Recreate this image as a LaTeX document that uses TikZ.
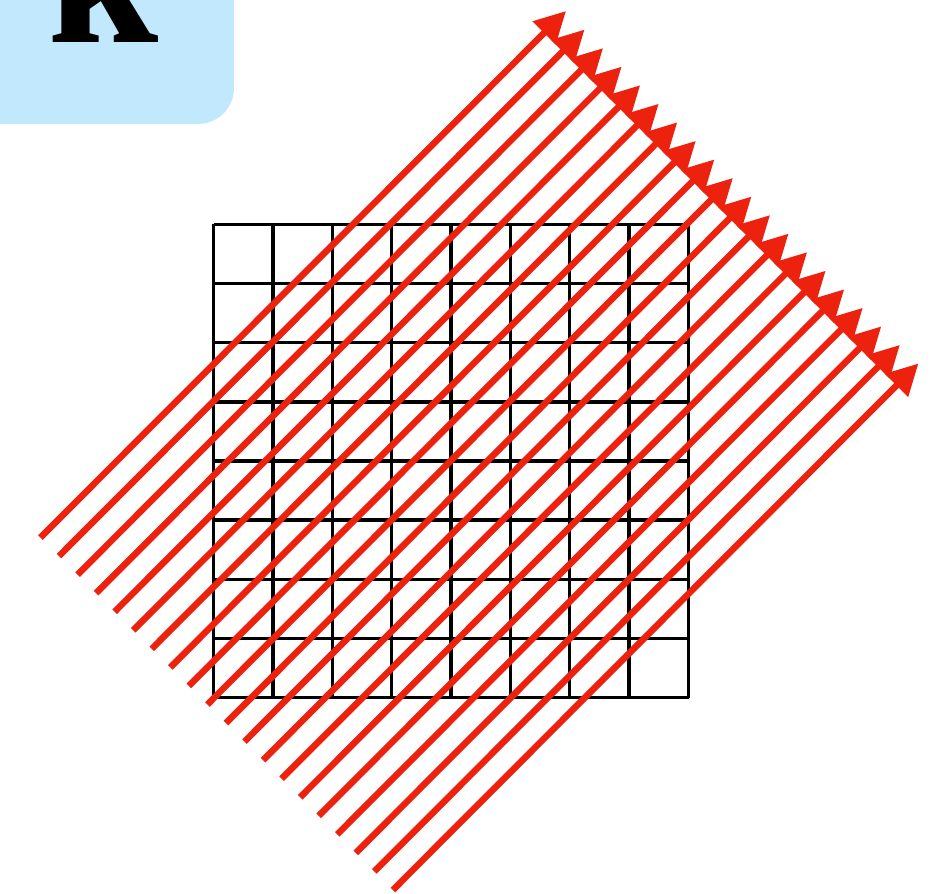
\documentclass[tikz,border=0pt]{standalone}
\usepackage{fontspec}
\newfontfamily\labelfont{Liberation Serif}
\usetikzlibrary{arrows.meta}
\definecolor{panelblue}{RGB}{193,232,253}
\definecolor{rayred}{RGB}{236,34,14}
\begin{document}
\begin{tikzpicture}[x=1pt,y=-1pt,
  gridline/.style={black,line width=3.3pt},
  ray/.style={rayred,line width=6.5pt,-{Triangle[length=31pt,width=31pt]}},
  panel/.style={fill=panelblue,draw=none,rounded corners=36pt}]
\useasboundingbox (0,0) rectangle (949,893);
\fill[panel] (-60,-60) rectangle (234,124);
\node[anchor=base west,inner sep=0pt,font=\labelfont\bfseries\fontsize{200}{204}\selectfont] (lbl) at (47,43) {k};
% grid
\foreach \i in {0,...,8} {
  \draw[gridline] ({213.5+\i*59.375},224.5) -- ({213.5+\i*59.375},697.5);
  \draw[gridline] (213.5,{224.5+\i*59.125}) -- (688.5,{224.5+\i*59.125});
}
% rays
\foreach \i in {0,...,19} {
  \coordinate (s\i) at ({40.5+\i*18.55},{537.5+\i*18.55});
  \coordinate (t\i) at ({566+\i*18.55},{11+\i*18.55});
  \draw[ray] (s\i) -- (t\i);
}
\end{tikzpicture}
\end{document}
